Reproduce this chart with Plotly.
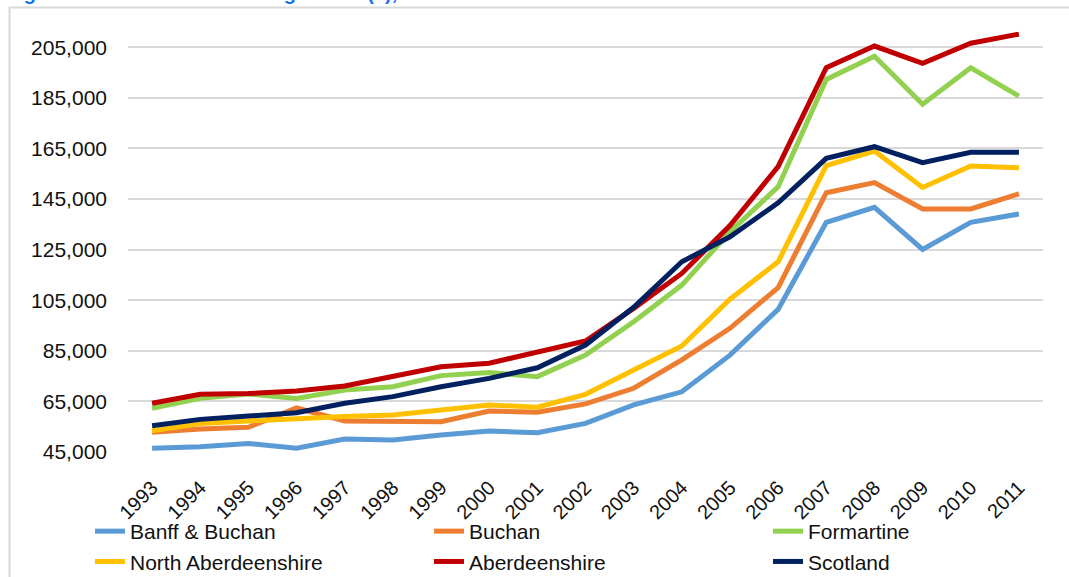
import plotly.graph_objects as go

# Mean house selling prices by area, 1993-2011
years = [str(y) for y in range(1993, 2012)]

banff_buchan = [46500, 47100, 48400, 46500, 50100, 49700, 51700, 53300, 52600, 56300,
                63600, 68800, 83300, 101400, 135800, 141700, 125100, 135800, 139100]
buchan = [52800, 54100, 54800, 62400, 57300, 57000, 57000, 61200, 60700, 64000,
          70200, 81400, 93900, 110000, 147500, 151500, 141100, 141100, 147100]
formartine = [62300, 66200, 67900, 66200, 69500, 70800, 75200, 76400, 74800, 83300,
              96500, 111000, 132000, 149900, 192300, 201500, 182500, 196900, 185700]
north_aberdeenshire = [53400, 56300, 57300, 58300, 59000, 59600, 61600, 63600, 62700, 67800,
                       77400, 86900, 105400, 120200, 158200, 164000, 149600, 158100, 157400]
aberdeenshire = [64300, 67800, 68100, 69100, 71100, 74700, 78700, 80100, 84300, 88900,
                 101800, 115600, 134500, 157800, 196900, 205500, 198700, 206600, 210200]
scotland = [55400, 57900, 59200, 60500, 64300, 66900, 70800, 74100, 78300, 87300,
            102200, 120200, 130100, 143500, 161100, 165700, 159400, 163500, 163500]

series = [
    ("Banff & Buchan", banff_buchan, "#5B9BD5"),
    ("Buchan", buchan, "#ED7D31"),
    ("Formartine", formartine, "#92D050"),
    ("North Aberdeenshire", north_aberdeenshire, "#FFC000"),
    ("Aberdeenshire", aberdeenshire, "#C00000"),
    ("Scotland", scotland, "#002060"),
]

y_ticks = list(range(45000, 225000, 20000))
y_tick_text = [f"{v:,}" for v in y_ticks]

W, H = 1069, 577
L, R, T, B = 128, 26, 22, 125

fig = go.Figure()
for name, vals, color in series:
    fig.add_trace(go.Scatter(
        x=years, y=vals, name=name, mode="lines",
        line=dict(color=color, width=5),
    ))

font_family = "Liberation Sans, Arial, sans-serif"

pw, ph = W - L - R, H - T - B
def px_x(p):
    return (p - L) / pw
def px_y(p):
    return (H - B - p) / ph

fig.update_layout(
    width=W, height=H,
    margin=dict(l=L, r=R, t=T, b=B, autoexpand=False),
    paper_bgcolor="white",
    plot_bgcolor="white",
    font=dict(family=font_family, color="#111111", size=21),
    xaxis=dict(
        type="category",
        range=[-0.5, 18.5],
        showgrid=False,
        showline=False,
        zeroline=False,
        tickangle=-45,
        tickfont=dict(size=20),
        ticklabelstandoff=19,
        automargin=False,
    ),
    yaxis=dict(
        range=[45000, 215000],
        tickvals=y_ticks,
        ticktext=y_tick_text,
        showgrid=True,
        gridcolor="#D9D9D9",
        gridwidth=1.5,
        zeroline=False,
        showline=False,
        tickfont=dict(size=21),
        ticklabelstandoff=20,
        automargin=False,
    ),
    legend=dict(
        orientation="h",
        x=px_x(90),
        xanchor="left",
        y=px_y(511),
        yanchor="top",
        entrywidth=294,
        entrywidthmode="pixels",
        font=dict(size=21),
        bgcolor="rgba(0,0,0,0)",
        traceorder="normal",
    ),
    showlegend=True,
)

# Chart-area frame (left and top edges)
fig.add_shape(
    type="path",
    xref="paper", yref="paper",
    path=f"M {px_x(9.5)},{px_y(H + 20)} L {px_x(9.5)},{px_y(7.5)} L {px_x(W + 20)},{px_y(7.5)}",
    line=dict(color="#D9D9D9", width=2),
    layer="below",
)

# Figure caption along the top edge
fig.add_annotation(
    text="Figure 10: Mean House Selling Prices (£), 1993-2011",
    xref="paper", yref="paper",
    x=px_x(4), y=px_y(6),
    xanchor="left", yanchor="bottom",
    showarrow=False,
    font=dict(family=font_family, size=20, color="#1A6FEF", weight="bold"),
)

fig.write_html("out.html")
